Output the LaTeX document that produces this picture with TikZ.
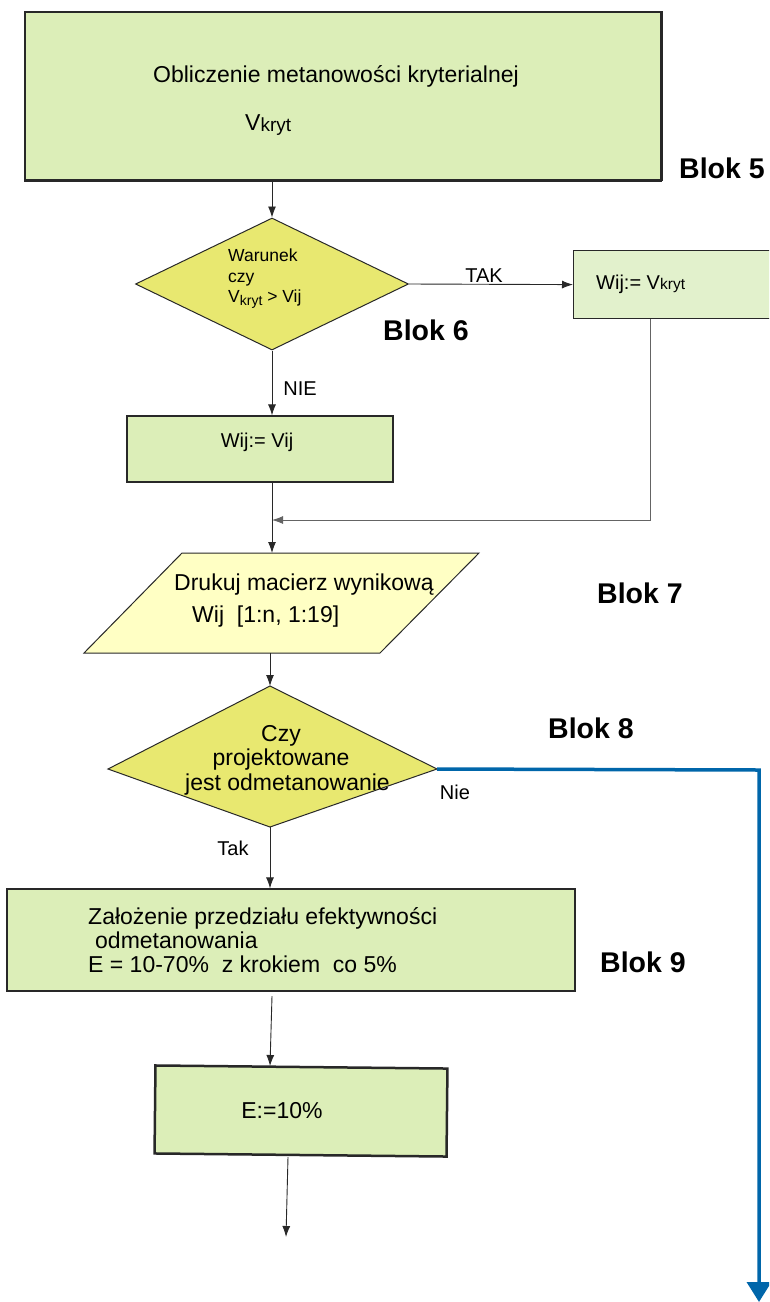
\documentclass[tikz,border=0pt]{standalone}
\usepackage{fontspec}
\setmainfont{Liberation Sans}
\usetikzlibrary{arrows.meta,shapes.geometric}
\definecolor{boxgreen}{RGB}{220,238,184}
\definecolor{boxgreenl}{RGB}{226,241,204}
\definecolor{dyellow}{RGB}{232,232,112}
\definecolor{pyellow}{RGB}{255,255,196}
\definecolor{flowblue}{RGB}{0,102,170}
\definecolor{linegray}{RGB}{40,40,40}
\definecolor{midgray}{RGB}{100,100,100}
\begin{document}
\begin{tikzpicture}[x=1pt,y=-1pt,
 box/.style={draw=linegray, line width=1.2pt, rectangle, inner sep=0pt},
 dia/.style={draw=linegray, line width=1pt, diamond, fill=dyellow, inner sep=0pt},
 conn/.style={draw=linegray, line width=0.9pt, -{Latex[length=11pt,width=8pt]}},
 plain/.style={draw=linegray, line width=0.9pt},
 lbl/.style={inner sep=0pt, font=\fontsize{20}{24}\selectfont},
 blok/.style={inner sep=0pt, font=\bfseries\fontsize{28.5}{32}\selectfont},
 maintext/.style={inner sep=0pt, font=\fontsize{23}{24}\selectfont},
]
\useasboundingbox (0,0) rectangle (769,1302);
\fill[white] (0,0) rectangle (769,1302);
\clip (0,0) rectangle (769,1302);

% Blok 5
\node[box, fill=boxgreen, minimum width=636pt, minimum height=168pt] (b5) at (343,96) {};
\draw[linegray, line width=3pt] (b5.south west) -- (b5.south east);
\draw[linegray, line width=2pt] (b5.south east) -- (b5.north east);
\node[maintext] (t5a) at (336,76) {Obliczenie metanowości kryterialnej};
\node[maintext, anchor=west] (t5b) at (245,125) {V\raisebox{-1.5pt}{\fontsize{19}{20}\selectfont kryt}};
\node[blok] (blok5) at (722,168) {Blok 5};

% Blok 6
\node[dia, minimum width=273pt, minimum height=132pt] (d6) at (272,284) {};
\node[anchor=west, align=left, inner sep=0pt, font=\fontsize{17.5}{20.5}\selectfont] (t6) at (228,279)
  {Warunek\\czy\\V\raisebox{-3pt}{\fontsize{14}{14}\selectfont kryt} > Vij};
\draw[conn] (d6.north |- b5.south) -- (d6.north);

\node[box, fill=boxgreenl, minimum width=240pt, minimum height=68pt, anchor=north west] (bk) at (573,250) {};
\node[lbl, anchor=west] (tk) at (596,284) {Wij:= V{\fontsize{15.5}{16}\selectfont kryt}};
\draw[conn] (d6.east) -- (bk.west);
\node[lbl] (tak) at (484,276) {TAK};
\node[blok] (blok6) at (426,330) {Blok 6};

\node[lbl] (nie1) at (300,389) {NIE};
\node[box, fill=boxgreen, minimum width=266pt, minimum height=66pt] (bw) at (260,449) {};
\node[lbl] (tw) at (257,442) {Wij:= Vij};
\draw[conn] (d6.south) -- (d6.south |- bw.north);

% merge
\coordinate (m) at (272,520);
\coordinate (kc) at (650,520);
\draw[conn, draw=midgray] (bk.south -| kc) -- (kc) -- (m);
\draw[plain] (bw.south -| m) -- (m);

% Blok 7 (parallelogram)
\coordinate (pgtl) at (182,553);
\coordinate (pgtr) at (479,553);
\coordinate (pgbr) at (380,653);
\coordinate (pgbl) at (84,653);
\filldraw[fill=pyellow, draw=linegray, line width=1pt] (pgtl) -- (pgtr) -- (pgbr) -- (pgbl) -- cycle;
\coordinate (pgtop) at (272,553);
\coordinate (pgbot) at (270,653);
\draw[conn] (m) -- (pgtop);
\node[maintext, anchor=west] (t7a) at (174,585) {Drukuj macierz wynikową};
\node[maintext, anchor=west] (t7b) at (192,617) {Wij\ \ [1:n, 1:19]};
\node[blok] (blok7) at (640,593) {Blok 7};

% Blok 8
\coordinate (d8n) at (270,686);
\coordinate (d8e) at (437,769);
\coordinate (d8s) at (270,827);
\coordinate (d8w) at (108,769);
\filldraw[fill=dyellow, draw=linegray, line width=1pt] (d8n) -- (d8e) -- (d8s) -- (d8w) -- cycle;
\draw[conn] (pgbot) -- (d8n);
\node[maintext, align=center, font=\fontsize{23}{24.5}\selectfont] (t8) at (281,760)
  {Czy\\projektowane\\\hspace{13pt}jest odmetanowanie};
\node[blok] (blok8) at (591,728) {Blok 8};

\coordinate (bc) at (759,770);
\coordinate (bend) at (759,1302);
\draw[flowblue, line width=3.5pt, -{Triangle[length=20pt,width=24pt]}] (d8e) -- (bc) -- (bend);
\node[lbl] (nie2) at (455,792) {Nie};
\node[lbl] (tak2) at (233,848) {Tak};

% Blok 9
\node[box, fill=boxgreen, minimum width=568pt, minimum height=102pt] (b9) at (291,940) {};
\draw[conn] (d8s) -- (d8s |- b9.north);
\node[maintext, anchor=west, align=left, font=\fontsize{23}{24}\selectfont] (t9) at (88,940)
  {Założenie przedziału efektywności\\\hspace{7pt}odmetanowania\\E = 10-70\%\ \ z krokiem\ \ co 5\%};
\node[blok] (blok9) at (643,962) {Blok 9};

\node[box, line width=2.5pt, fill=boxgreen, minimum width=292pt, minimum height=88pt, rotate=-0.6] (bE) at (301,1111) {};
\node[maintext] (tE) at (282,1111) {E:=10\%};
\coordinate (c9) at (272,996);
\coordinate (cE) at (270,1066);
\draw[conn] (c9) -- (cE);
\coordinate (cE2) at (288,1157);
\coordinate (cEnd) at (286,1237);
\draw[conn] (cE2) -- (cEnd);
\end{tikzpicture}
\end{document}
